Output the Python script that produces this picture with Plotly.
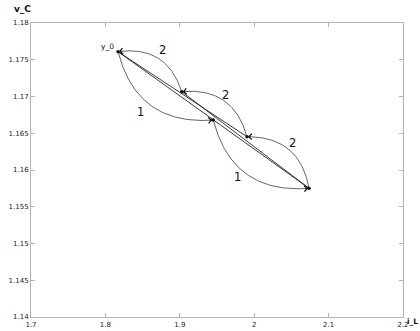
import numpy as np
import plotly.graph_objects as go

# Iterate points: y_0, then the intermediate and final states
pt_names = ["y_0", "A", "B", "C", "D"]
pt_x = [1.817, 1.9026, 1.945, 1.9903, 2.0737]
pt_y = [1.1761, 1.17065, 1.1668, 1.16453, 1.15751]

# Curved steps: (start index, end index, step label)
arc_from = [0, 2, 4, 3, 1]
arc_to = [2, 4, 3, 1, 0]
arc_label = ["1", "1", "2", "2", "2"]

# Straight chords between points
chord_from = [0, 0, 1]
chord_to = [4, 3, 4]

# Step-label anchor positions
lab_text = ["1", "2", "2", "1", "2"]
lab_x = [1.8465, 1.8774, 1.962, 1.977, 2.052]
lab_y = [1.1679, 1.1763, 1.1702, 1.1590, 1.1637]

# Axis ticks
x_ticks = [1.7, 1.8, 1.9, 2.0, 2.1, 2.2]
x_ticktext = ["1.7", "1.8", "1.9", "2", "2.1", "2.2"]
y_ticks = [1.14, 1.145, 1.15, 1.155, 1.16, 1.165, 1.17, 1.175, 1.18]
y_ticktext = ["1.14", "1.145", "1.15", "1.155", "1.16", "1.165", "1.17", "1.175", "1.18"]

# ---- layout geometry / style ----
W, H = 420, 331
ML, MR, MT, MB = 31, 17, 23, 14
X_RANGE = (1.7, 2.2)
Y_RANGE = (1.14, 1.18)
PW, PH = W - ML - MR, H - MT - MB
SX = PW / (X_RANGE[1] - X_RANGE[0])   # px per x unit
SY = PH / (Y_RANGE[1] - Y_RANGE[0])   # px per y unit
BULGE = 0.42                           # control-point offset / chord length
FRAME = "#b4b4b4"
INK = "#111111"
FONT = "DejaVu Sans"


def to_px(x, y):
    return np.array([x * SX, -y * SY])


def from_px(p):
    return p[..., 0] / SX, -p[..., 1] / SY


fig = go.Figure()

# straight chords
for i, j in zip(chord_from, chord_to):
    fig.add_trace(go.Scatter(x=[pt_x[i], pt_x[j]], y=[pt_y[i], pt_y[j]], mode="lines",
                             line=dict(color="#222222", width=0.9), hoverinfo="skip"))

# curved steps as quadratic Bezier curves (bulge side depends on the step)
annotations = []
t = np.linspace(0, 1, 80)[:, None]
for i, j, lab in zip(arc_from, arc_to, arc_label):
    P = to_px(pt_x[i], pt_y[i])
    Q = to_px(pt_x[j], pt_y[j])
    v = Q - P
    L = np.hypot(*v)
    n = np.array([-v[1], v[0]]) / L
    # step "1" curves bow below the chord, step "2" curves bow above it
    if (lab == "1" and n[1] < 0) or (lab == "2" and n[1] > 0):
        n = -n
    C = (P + Q) / 2 + BULGE * L * n
    curve = (1 - t) ** 2 * P + 2 * t * (1 - t) * C + t ** 2 * Q
    cx, cy = from_px(curve)
    fig.add_trace(go.Scatter(x=cx, y=cy, mode="lines",
                             line=dict(color="#222222", width=0.7), hoverinfo="skip"))
    d = (Q - C) / np.hypot(*(Q - C))
    tail = Q - 5 * d
    tx, ty = from_px(tail)
    annotations.append(dict(x=pt_x[j], y=pt_y[j], ax=float(tx), ay=float(ty),
                            xref="x", yref="y", axref="x", ayref="y", text="",
                            showarrow=True, arrowhead=4, arrowsize=1.6, arrowwidth=0.7,
                            arrowcolor="#111111", standoff=1))

# iterate points
fig.add_trace(go.Scatter(x=pt_x, y=pt_y, mode="markers",
                         marker=dict(color=INK, size=3.5), hoverinfo="skip"))

# y_0 label
annotations.append(dict(x=pt_x[0], y=pt_y[0], text=pt_names[0], showarrow=False,
                        xanchor="right", yanchor="bottom", xshift=-2, yshift=-1,
                        font=dict(family=FONT, size=7.5, color=INK)))

# step labels
for s, lx, ly in zip(lab_text, lab_x, lab_y):
    annotations.append(dict(x=lx, y=ly, text=s, showarrow=False,
                            font=dict(family=FONT, size=11.5, color=INK)))

# axis names
annotations.append(dict(xref="paper", yref="paper", x=(12 - ML) / PW, y=(H - MB - 9) / PH,
                        text="<b>v_C</b>", showarrow=False, xanchor="left", yanchor="middle",
                        font=dict(family=FONT, size=9, color=INK)))
annotations.append(dict(xref="paper", yref="paper", x=(419 - ML) / PW, y=(H - MB - 321) / PH,
                        text="<b>i_L</b>", showarrow=False, xanchor="right", yanchor="middle",
                        borderpad=0, font=dict(family=FONT, size=7.5, color=INK)))

axis_common = dict(showline=True, linecolor=FRAME, linewidth=1, mirror="ticks",
                   ticks="inside", ticklen=4, tickcolor=FRAME, tickwidth=1,
                   showgrid=False, zeroline=False, automargin=False,
                   tickfont=dict(family=FONT, size=7, color="#222222"))

fig.update_layout(
    width=W, height=H,
    margin=dict(l=ML, r=MR, t=MT, b=MB, autoexpand=False),
    paper_bgcolor="white", plot_bgcolor="white",
    showlegend=False,
    annotations=annotations,
    xaxis=dict(range=list(X_RANGE), tickvals=x_ticks, ticktext=x_ticktext,
               ticklabelstandoff=1, **axis_common),
    yaxis=dict(range=list(Y_RANGE), tickvals=y_ticks, ticktext=y_ticktext, **axis_common),
)

fig.write_html("out.html")
